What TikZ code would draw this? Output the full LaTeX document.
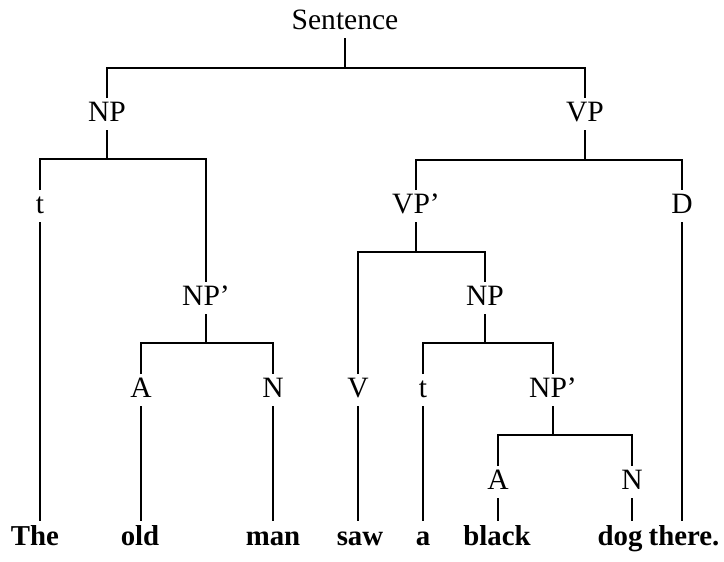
\documentclass[tikz,border=0pt]{standalone}
\usepackage{fontspec}
\setmainfont{Liberation Serif}
\usepackage{tikz}
\usetikzlibrary{positioning}
\tikzstyle{cat} = [anchor=base, inner sep=2pt, text height=14pt, text depth=4.5pt, font=\fontsize{21}{24}\selectfont]
\tikzstyle{word} = [anchor=base, inner sep=2pt, text height=15pt, text depth=4pt, font=\fontsize{20.5}{23}\selectfont\bfseries]
\tikzstyle{branch} = [line width=1pt]

\begin{document}
\begin{tikzpicture}[x=0.025cm, y=-0.025cm]
\useasboundingbox (0,0) rectangle (724,561);

% Categories
\node[cat] (s) at (345,29) {Sentence};
\node[cat] (np) at (107,121) {NP};
\node[cat] (vp) at (585,121) {VP};
\node[cat] (t1) at (40,213) {t};
\node[cat] (vpbar) at (416,213) {VP'};
\node[cat] (d) at (682,213) {D};
\node[cat] (npbar1) at (206,305) {NP'};
\node[cat] (np2) at (485,305) {NP};
\node[cat] (a1) at (141,397) {A};
\node[cat] (n1) at (273,397) {N};
\node[cat] (v) at (358,397) {V};
\node[cat] (t2) at (423,397) {t};
\node[cat] (npbar2) at (553,397) {NP'};
\node[cat] (a2) at (498,489) {A};
\node[cat] (n2) at (632,489) {N};

% Words
\node[word] (the) at (35,545) {The};
\node[word] (old) at (140,545) {old};
\node[word] (man) at (273,545) {man};
\node[word] (saw) at (360,545) {saw};
\node[word] (a) at (423,545) {a};
\node[word] (black) at (497,545) {black};
\node[word] (dog) at (620,545) {dog};
\node[word] (there) at (684,545) {there.};

% Bar heights
\coordinate (b0) at (0,68);
\coordinate (b1) at (0,159);
\coordinate (b2) at (0,160);
\coordinate (b3) at (0,252);
\coordinate (b4) at (0,343);
\coordinate (b5) at (0,435);

% Branches
\draw[branch] (s) -- (s |- b0);
\draw[branch] (np) -- (np |- b0) -- (vp |- b0) -- (vp);
\draw[branch] (np) -- (np |- b1);
\draw[branch] (t1) -- (t1 |- b1) -- (npbar1 |- b1) -- (npbar1);
\draw[branch] (vp) -- (vp |- b2);
\draw[branch] (vpbar) -- (vpbar |- b2) -- (d |- b2) -- (d);
\draw[branch] (vpbar) -- (vpbar |- b3);
\draw[branch] (v) -- (v |- b3) -- (np2 |- b3) -- (np2);
\draw[branch] (npbar1) -- (npbar1 |- b4);
\draw[branch] (a1) -- (a1 |- b4) -- (n1 |- b4) -- (n1);
\draw[branch] (np2) -- (np2 |- b4);
\draw[branch] (t2) -- (t2 |- b4) -- (npbar2 |- b4) -- (npbar2);
\draw[branch] (npbar2) -- (npbar2 |- b5);
\draw[branch] (a2) -- (a2 |- b5) -- (n2 |- b5) -- (n2);

% Down to the words
\draw[branch] (t1) -- (t1 |- the.north);
\draw[branch] (a1) -- (a1 |- old.north);
\draw[branch] (n1) -- (n1 |- man.north);
\draw[branch] (v) -- (v |- saw.north);
\draw[branch] (t2) -- (t2 |- a.north);
\draw[branch] (a2) -- (a2 |- black.north);
\draw[branch] (n2) -- (n2 |- dog.north);
\draw[branch] (d) -- (d |- there.north);
\end{tikzpicture}
\end{document}
